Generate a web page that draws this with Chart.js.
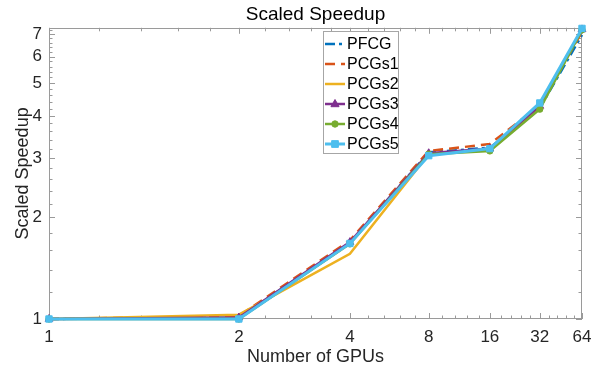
<!DOCTYPE html>
<html><head><meta charset="utf-8">
<script src="https://cdn.jsdelivr.net/npm/chart.js@4/dist/chart.umd.min.js"></script>
<style>html,body{margin:0;padding:0;background:#fff}#wrap{width:608px;height:372px}</style>
</head><body><div id="wrap"><canvas id="c" width="608" height="372"></canvas></div>
<script>
// ---- data ----
const gpuCounts   = [1, 2, 4, 8, 16, 32, 64];       // tick labels of x axis
const gpuPosition = [1, 2, 3, 4, 5, 6, 7];          // axis position of each GPU count (log-scaled index)
const seriesNames = ['PFCG', 'PCGs1', 'PCGs2', 'PCGs3', 'PCGs4', 'PCGs5'];
const PFCG  = [1, 1.01, 1.68, 3.12, 3.22, 4.22, 6.95];
const PCGs1 = [1, 1.02, 1.71, 3.15, 3.30, 4.30, 7.10];
const PCGs2 = [1, 1.03, 1.56, 3.08, 3.18, 4.25, 7.20];
const PCGs3 = [1, 1.01, 1.69, 3.10, 3.20, 4.28, 7.22];
const PCGs4 = [1, 1.00, 1.67, 3.08, 3.15, 4.19, 7.20];
const PCGs5 = [1, 1.00, 1.675, 3.05, 3.20, 4.37, 7.27];
const yTickLabels = [1, 2, 3, 4, 5, 6, 7];
const minorStep = 0.2;

const seriesValues = [PFCG, PCGs1, PCGs2, PCGs3, PCGs4, PCGs5];
const styles = [
  {color:'#0072BD', dash:[10,4,3,4], point:false, width:2.5},
  {color:'#D95319', dash:[10,6], point:false, width:2.5},
  {color:'#EDB120', dash:[], point:false, width:2.5},
  {color:'#7E2F8E', dash:[], point:'triangle', r:4.5, width:2.5},
  {color:'#77AC30', dash:[], point:'circle', r:3.2, width:2.5},
  {color:'#4DBEEE', dash:[], point:'rect', r:4.5, width:3}
];

function tickList(maxV){
  const out=[]; for(let k=0;;k++){ const v=Math.round((1+k*minorStep)*10)/10; if(v>maxV+1e-9)break; out.push(v);} return out;
}
const isInt = v => Math.abs(v-Math.round(v))<1e-9;

const datasets = seriesNames.map((name,i)=>({
  label:name,
  data: gpuPosition.map((x,j)=>({x, y: seriesValues[i][j]})),
  borderColor: styles[i].color,
  backgroundColor: styles[i].color,
  borderWidth: styles[i].width,
  borderDash: styles[i].dash,
  pointStyle: styles[i].point || 'circle',
  pointRadius: styles[i].point ? styles[i].r : 0,
  pointBorderWidth: 1,
  pointBackgroundColor: styles[i].color,
  pointBorderColor: styles[i].color,
  tension:0, fill:false, clip:false,
  order: seriesNames.length - i
}));

const axisColor = '#9a9a9a';
const textColor = '#262626';
const FONT = "'Liberation Sans', Arial, Helvetica, sans-serif";

const boxTicks = {
  id:'boxTicks',
  beforeDatasetsDraw(chart){
    const {ctx, chartArea:a, scales:{x, y}} = chart;
    ctx.save();
    ctx.strokeStyle = axisColor; ctx.lineWidth = 1;
    ctx.strokeRect(Math.round(a.left)+0.5, Math.round(a.top)+0.5, Math.round(a.right-a.left)-1, Math.round(a.bottom-a.top)-1);
    ctx.beginPath();
    x.ticks.forEach(t=>{
      const px = Math.round(x.getPixelForValue(t.value))+0.5;
      const L = isInt(t.value) ? 6 : 3.5;
      ctx.moveTo(px, a.bottom); ctx.lineTo(px, a.bottom-L);
      ctx.moveTo(px, a.top); ctx.lineTo(px, a.top+L);
    });
    y.ticks.forEach(t=>{
      const py = Math.round(y.getPixelForValue(t.value))+0.5;
      const L = isInt(t.value) ? 6 : 3.5;
      ctx.moveTo(a.left, py); ctx.lineTo(a.left+L, py);
      ctx.moveTo(a.right, py); ctx.lineTo(a.right-L, py);
    });
    ctx.stroke();
    ctx.restore();
  }
};

function drawMarker(ctx, type, x, y, r, color){
  ctx.fillStyle = color; ctx.strokeStyle = color; ctx.lineWidth = 1;
  ctx.beginPath();
  if(type==='triangle'){ ctx.moveTo(x, y-r); ctx.lineTo(x+r*0.9, y+r*0.6); ctx.lineTo(x-r*0.9, y+r*0.6); ctx.closePath(); }
  else if(type==='rect'){ ctx.rect(x-r*0.75, y-r*0.75, r*1.5, r*1.5); }
  else { ctx.arc(x, y, r, 0, Math.PI*2); }
  ctx.fill(); ctx.stroke();
}

const boxLegend = {
  id:'boxLegend',
  afterDatasetsDraw(chart){
    const ctx = chart.ctx;
    const x0 = 323, y0 = 31, w = 75, h = 122;
    ctx.save();
    ctx.fillStyle = '#fff'; ctx.fillRect(x0, y0, w, h);
    ctx.strokeStyle = '#a6a6a6'; ctx.lineWidth = 1; ctx.strokeRect(x0+0.5, y0+0.5, w, h);
    chart.data.datasets.forEach((ds,i)=>{
      const st = styles[i];
      const yy = y0 + 13 + i*20;
      ctx.beginPath(); ctx.setLineDash(st.dash); ctx.lineDashOffset = 0;
      ctx.strokeStyle = st.color; ctx.lineWidth = st.width;
      ctx.moveTo(x0+2, yy); ctx.lineTo(x0+22, yy); ctx.stroke();
      ctx.setLineDash([]);
      if(st.point) drawMarker(ctx, st.point, x0+12, yy, st.r, st.color);
      ctx.fillStyle = '#000'; ctx.font = '16px ' + FONT; ctx.textAlign='left'; ctx.textBaseline='middle';
      ctx.fillText(ds.label, x0+24, yy+1);
    });
    ctx.restore();
  }
};

new Chart(document.getElementById('c'), {
  type:'line',
  data:{ datasets },
  options:{
    responsive:false, animation:false, devicePixelRatio:1,
    layout:{ padding:{ left:0, right:26, top:0, bottom:0 } },
    plugins:{
      legend:{ display:false },
      tooltip:{ enabled:false },
      title:{ display:true, text:'Scaled Speedup', fullSize:false, color:'#000',
        font:{ family:FONT, size:19, weight:'normal' }, padding:{ top:3, bottom:2 } }
    },
    scales:{
      x:{ type:'logarithmic', position:'bottom', min:1, max:7,
        afterBuildTicks: s => { s.ticks = tickList(7).map(v=>({value:v, major:isInt(v)})); },
        afterFit: s => { s.height = 53; },
        grid:{ display:false, drawTicks:false }, border:{ display:false },
        ticks:{ autoSkip:false, maxRotation:0, padding:8, color:textColor,
          font:{ family:FONT, size:17 },
          callback: v => isInt(v) ? String(gpuCounts[gpuPosition.indexOf(Math.round(v))]) : '' },
        title:{ display:true, text:'Number of GPUs', color:textColor,
          font:{ family:FONT, size:18 }, padding:{ top:0, bottom:4 } }
      },
      y:{ type:'logarithmic', position:'left', min:1, max:7.3,
        afterBuildTicks: s => { s.ticks = tickList(7.3).map(v=>({value:v, major:isInt(v)})); },
        afterFit: s => { s.width = 49; },
        grid:{ display:false, drawTicks:false }, border:{ display:false },
        ticks:{ autoSkip:false, padding:7, color:textColor,
          font:{ family:FONT, size:17 },
          callback: v => isInt(v) && yTickLabels.includes(Math.round(v)) ? String(Math.round(v)) : '' },
        title:{ display:true, text:'Scaled Speedup', color:textColor,
          font:{ family:FONT, size:18 }, padding:{ top:12, bottom:0 } }
      }
    }
  },
  plugins:[boxTicks, boxLegend]
});
</script>
</body></html>
